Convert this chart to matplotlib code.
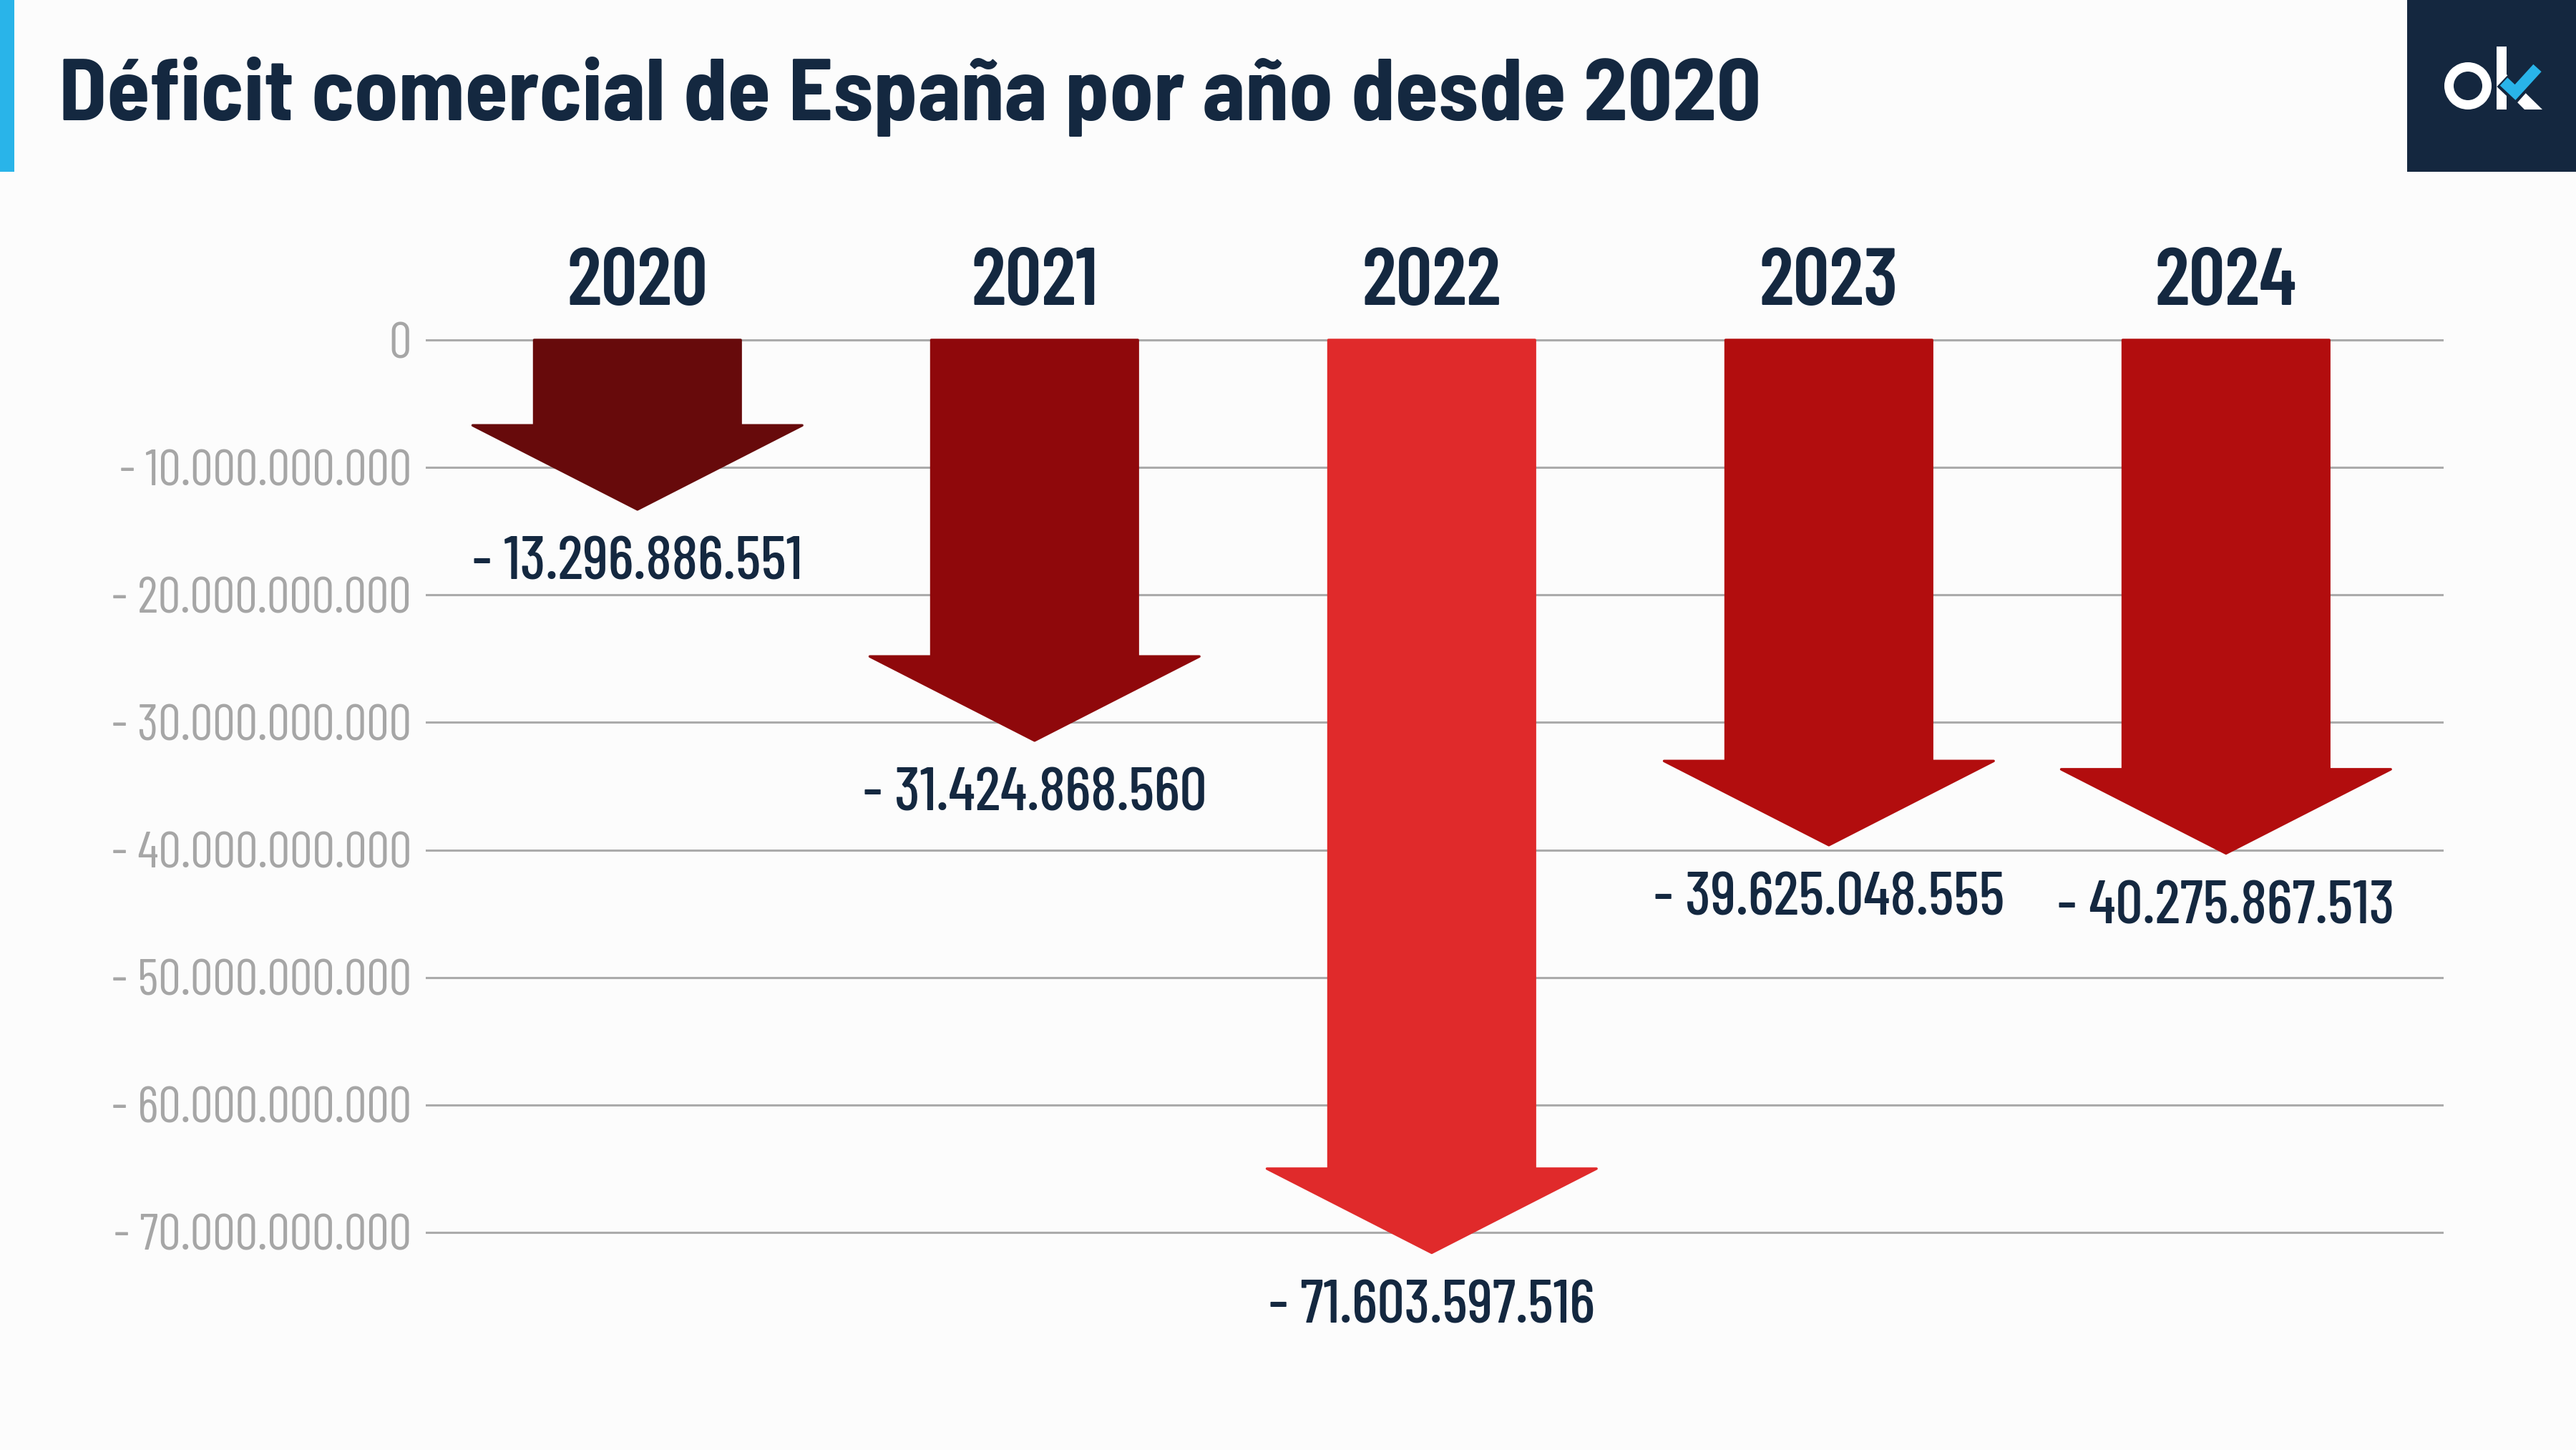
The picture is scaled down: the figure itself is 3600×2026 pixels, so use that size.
import matplotlib
matplotlib.use("Agg")
import matplotlib.pyplot as plt
from matplotlib import font_manager as fm
from matplotlib.patches import Polygon, Rectangle, Wedge
import matplotlib.transforms as mtransforms

# ---------------- data ----------------
years = ["2020", "2021", "2022", "2023", "2024"]
values = [-13296886551, -31424868560, -71603597516, -39625048555, -40275867513]
arrow_colors = ["#670A0B", "#8F080B", "#E02A2B", "#B20D0E", "#B20D0E"]
ytick_values = [0, -10e9, -20e9, -30e9, -40e9, -50e9, -60e9, -70e9]
title = "Déficit comercial de España por año desde 2020"

# ---------------- fonts ----------------
_names = {f.name for f in fm.fontManager.ttflist}
def pick(cands):
    for c in cands:
        if c in _names:
            return c
    return "DejaVu Sans"

COND = [pick(["Barlow Condensed", "Saira ExtraCondensed", "Asap Condensed",
              "Archivo Narrow", "Sofia Sans Condensed"]), "DejaVu Sans"]
_tf = pick(["Barlow Semi Condensed", "Barlow", "Roboto"])
TITLE_FONT = [_tf, "DejaVu Sans"]
TITLE_SIZE = 88.5 if _tf == "Barlow Semi Condensed" else 81

# ---------------- style ----------------
W, H = 3600, 2026
DPI = 100
BG = "#FCFCFC"
NAVY = "#142840"
GRAY_TXT = "#A6A6A6"
GRID = "#ABABAB"

def fmt_es(v):
    if v == 0:
        return "0"
    s = f"{abs(int(round(v))):,}".replace(",", ".")
    return ("- " if v < 0 else "") + s

fig = plt.figure(figsize=(W / DPI, H / DPI), dpi=DPI, facecolor=BG)

ax_left, ax_right = 595, 3415
ax_top, ax_bottom = 457.2, 1900
ax = fig.add_axes([ax_left / W, 1 - ax_bottom / H,
                   (ax_right - ax_left) / W, (ax_bottom - ax_top) / H])
ax.set_facecolor(BG)
ax.set_ylim(-80e9, 1e9)
ax.set_xlim(-0.533, 4.548)

for s in ax.spines.values():
    s.set_visible(False)
ax.set_xticks([])
ax.set_yticks(ytick_values)
ax.set_yticklabels([fmt_es(v) for v in ytick_values])
ax.tick_params(axis="y", length=0, pad=14.4, labelsize=51, labelcolor=GRAY_TXT)
for lab in ax.get_yticklabels():
    lab.set_family(COND)
    lab.set_fontweight(400)
ax.grid(axis="y", color=GRID, linewidth=2.2, zorder=0)
ax.set_axisbelow(True)

shaft_half = 0.26
head_half = 0.415
head_len = 6.6e9
up = mtransforms.ScaledTranslation(0, 79 / DPI, fig.dpi_scale_trans)
for i, (yr, v, c) in enumerate(zip(years, values, arrow_colors)):
    xc = i
    base = v + head_len
    verts = [(xc - shaft_half, 0), (xc + shaft_half, 0), (xc + shaft_half, base),
             (xc + head_half, base), (xc, v), (xc - head_half, base),
             (xc - shaft_half, base)]
    ax.add_patch(Polygon(verts, closed=True, facecolor=c, edgecolor=c,
                         linewidth=2.5, joinstyle="round", zorder=3))
    ax.annotate(fmt_es(v), xy=(xc, v), xytext=(0, -55), textcoords="offset points",
                ha="center", va="center", fontsize=61, color=NAVY,
                family=COND, fontweight=500, zorder=4)
    ax.text(xc, 0, yr, transform=ax.transData + up,
            ha="center", va="center", fontsize=81, color=NAVY, family=COND,
            fontweight=600)

# title
fig.text(82 / W, 1 - 168 / H, title, ha="left", va="baseline", fontsize=TITLE_SIZE,
         fontweight="bold", color=NAVY, family=TITLE_FONT)

# left blue accent bar
fig.add_artist(Rectangle((0, 1 - 240 / H), 20 / W, 240 / H, transform=fig.transFigure,
                         facecolor="#29B4E9", edgecolor="none"))

# logo box
lx0, lx1, ly1 = 3364, 3600, 240
lax = fig.add_axes([lx0 / W, 1 - ly1 / H, (lx1 - lx0) / W, ly1 / H])
lax.set_xlim(lx0, lx1)
lax.set_ylim(ly1, 0)
lax.axis("off")
lax.add_patch(Rectangle((lx0, 0), lx1 - lx0, ly1, facecolor="#14273F", edgecolor="none"))
lax.add_patch(Wedge((3449, 120), 33, 0, 360, width=13, facecolor="white", edgecolor="none"))
lax.add_patch(Rectangle((3489, 65), 14, 88, facecolor="white", edgecolor="none"))
lax.add_patch(Polygon([(3503, 104), (3503, 128), (3528, 153), (3553, 153)],
                      closed=True, facecolor="white", edgecolor="none"))
lax.plot([3497, 3515, 3548], [113, 130, 93], color="#14273F", linewidth=16,
         solid_capstyle="butt", solid_joinstyle="miter")
lax.plot([3499, 3515, 3546], [114, 129, 95], color="#29B4E9", linewidth=11,
         solid_capstyle="butt", solid_joinstyle="miter")

fig.savefig("out.png", dpi=DPI, facecolor=BG)
